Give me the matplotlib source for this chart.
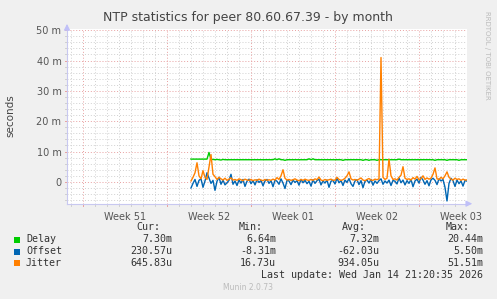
import matplotlib
matplotlib.use("Agg")
import matplotlib.pyplot as plt
import matplotlib.transforms as mtransforms
from matplotlib.patches import Rectangle

# x in hours from the left edge of the graph (2 h per pixel, 800 h wide)
start_hour = 248
step_hours = 4

offset_m = [
    -2.0, -0.5, 0.8, -1.5, 0.5, 1.0, -1.8, 0.3, 3.0, 1.2, -0.5, 0.5, -2.8, 0.2, 1.5, -0.8, 0.6, -1.0, -0.3, 0.5,
    2.5, -0.8, 0.3, -1.2, 0.6, -0.4, 0.8, -1.5, 0.2, 0.9, -0.6, 0.4, -1.0, 0.7, -0.2, 0.5, -1.3, 0.3, 0.8, -0.5,
    0.4, -1.6, 0.6, 0.2, -0.8, 1.0, -0.4, -2.2, 0.5, 0.3, -0.9, 0.6, -0.2, 0.4, -1.1, 0.8, -0.3, 0.5, -0.6, 0.2,
    -1.4, 0.7, -0.5, 0.4, 0.9, -1.0, 0.3, -0.4, 0.6, -1.8, 0.2, 0.5, -0.7, 1.2, -0.3, 0.4, -1.2, 0.6, -0.2, 1.1,
    -0.6, -1.5, 0.3, 0.7, -0.9, 0.4, -1.9, 0.2, 0.6, -0.4, 0.8, -1.1, 0.3, -0.5, 0.4, 1.0, -0.8, 0.3, -0.4, 0.6,
    -1.2, 0.5, 0.2, -0.7, 1.3, -0.3, 0.6, -1.0, 0.4, -0.5, 0.8, -1.6, 0.3, 0.9, -0.4, 1.5, 0.6, -0.8, 0.4, -1.3,
    0.7, 1.2, 0.5, -0.9, 1.0, 0.3, 0.8, -1.8, -6.3, -0.5, 1.2, 0.4, -1.5, 0.6, -0.6, 0.3, -1.4, 0.5, 0.23,
]
jitter_m = [
    0.3, 1.5, 3.0, 6.3, 2.0, 1.0, 3.7, 1.5, 0.8, 5.0, 9.0, 2.5, 1.7, 0.8, 1.5, 1.0, 0.6, 1.2, 0.5, 0.9,
    1.3, 0.6, 0.8, 0.5, 1.0, 0.7, 0.4, 0.9, 0.6, 0.5, 0.8, 0.4, 0.7, 0.5, 0.9, 0.6, 0.4, 0.8, 0.5, 0.7,
    0.5, 0.9, 0.6, 1.4, 0.8, 2.0, 4.0, 1.2, 0.6, 0.8, 0.5, 0.7, 1.0, 0.6, 0.4, 0.8, 0.5, 0.9, 0.6, 0.5,
    0.8, 0.5, 1.0, 0.7, 1.6, 0.6, 0.4, 0.8, 0.5, 0.7, 0.9, 0.5, 0.6, 1.5, 0.8, 0.5, 0.7, 1.2, 2.0, 3.3,
    1.0, 0.6, 0.8, 0.5, 0.9, 1.3, 0.6, 0.4, 0.8, 1.1, 0.6, 0.5, 0.9, 0.7, 1.0, 41.0, 1.5, 0.8, 1.2, 7.5,
    2.0, 0.8, 1.0, 0.6, 1.5, 2.2, 5.0, 1.2, 0.8, 1.0, 0.6, 1.4, 0.9, 1.8, 0.7, 1.1, 2.0, 0.8, 1.3, 0.9,
    1.2, 2.5, 4.6, 1.0, 0.8, 1.5, 1.0, 2.0, 3.3, 1.5, 0.9, 0.6, 1.2, 0.8, 1.0, 0.5, 0.9, 0.6, 0.65,
]
delay_m = [
    7.5, 7.5, 7.5, 7.5, 7.5, 7.5, 7.5, 7.5, 7.5, 9.7, 7.4, 7.4, 7.3, 7.4, 7.3, 7.2, 7.4, 7.3, 7.3, 7.3,
    7.3, 7.3, 7.3, 7.3, 7.3, 7.3, 7.3, 7.3, 7.3, 7.3, 7.3, 7.3, 7.3, 7.3, 7.3, 7.3, 7.3, 7.3, 7.3, 7.3,
    7.3, 7.3, 7.6, 7.3, 7.6, 7.3, 7.3, 7.1, 7.3, 7.3, 7.3, 7.3, 7.3, 7.3, 7.3, 7.3, 7.3, 7.3, 7.3, 7.6,
    7.3, 7.6, 7.3, 7.3, 7.3, 7.3, 7.3, 7.3, 7.3, 7.3, 7.3, 7.3, 7.3, 7.3, 7.3, 7.3, 7.1, 7.3, 7.3, 7.3,
    7.3, 7.3, 7.3, 7.3, 7.3, 7.3, 7.1, 7.3, 7.3, 7.1, 7.3, 7.3, 7.3, 7.1, 7.3, 7.3, 7.3, 7.3, 7.3, 7.3,
    7.3, 7.3, 7.3, 7.3, 7.5, 7.3, 7.3, 7.3, 7.3, 7.3, 7.3, 7.3, 7.3, 7.3, 7.3, 7.3, 7.3, 7.3, 7.3, 7.3,
    7.3, 7.3, 7.1, 7.3, 7.3, 7.3, 7.3, 7.3, 7.1, 7.3, 7.3, 7.3, 7.3, 7.3, 7.1, 7.3, 7.3, 7.3, 7.3,
]
hours = [start_hour + step_hours * i for i in range(len(offset_m))]

week_labels = ["Week 51", "Week 52", "Week 01", "Week 02", "Week 03"]
week_starts = [32, 200, 368, 536, 704]
y_ticks = [0, 10, 20, 30, 40, 50]
y_tick_labels = ["0", "10 m", "20 m", "30 m", "40 m", "50 m"]

series_names = ["Delay", "Offset", "Jitter"]
series_colors = ["#00CC00", "#0066B3", "#FF8000"]
cur_vals = ["7.30m", "230.57u", "645.83u"]
min_vals = ["6.64m", "-8.31m", "16.73u"]
avg_vals = ["7.32m", "-62.03u", "934.05u"]
max_vals = ["20.44m", "5.50m", "51.51m"]

W, H = 497, 299
fig = plt.figure(figsize=(W / 100, H / 100), dpi=100, facecolor="#F0F0F0")
ax = fig.add_axes([67 / W, (H - 203.7) / H, 400 / W, 174.7 / H], facecolor="white")
ax.set_xlim(0, 800)
ax.set_ylim(-7.2, 50.4)

MINOR = "#D0D0D0"
MAJOR = "#E8A0A0"
dots = (0, (1, 2))
# grid lines, with short tick stubs poking outside the plot area
tx = mtransforms.blended_transform_factory(ax.transData, ax.transAxes)
ty = mtransforms.blended_transform_factory(ax.transAxes, ax.transData)
for y in range(-6, 51, 2):
    c = MAJOR if y % 10 == 0 else MINOR
    ax.axhline(y, color=c, lw=0.7, ls=dots, zorder=1)
    ax.plot([-0.006, 0], [y, y], color=c, lw=0.7, transform=ty, clip_on=False)
for h in range(8, 800, 24):
    c = MAJOR if h in week_starts else MINOR
    ax.axvline(h, color=c, lw=0.7, ls=dots, zorder=1)
    ax.plot([h, h], [-0.014, 0], color=c, lw=0.7, transform=tx, clip_on=False)

ax.plot(hours, delay_m, color=series_colors[0], lw=1.0, zorder=3)
ax.plot(hours, offset_m, color=series_colors[1], lw=1.0, zorder=4)
ax.plot(hours, jitter_m, color=series_colors[2], lw=1.0, zorder=5)

for s in ["top", "right"]:
    ax.spines[s].set_visible(False)
for s in ["left", "bottom"]:
    ax.spines[s].set_color("#C8C8F0")
    ax.spines[s].set_linewidth(0.8)

ax.set_yticks(y_ticks)
ax.set_yticklabels(y_tick_labels)
ax.set_xticks([w + 84 for w in week_starts])
ax.set_xticklabels(week_labels)
ax.tick_params(axis="both", length=0, labelsize=7, colors="#555555", pad=4)
ax.tick_params(axis="x", pad=6)

# arrows at the end of the axes
ax.annotate("", xy=(0, 1.045), xytext=(0, 0.98), xycoords="axes fraction",
            arrowprops=dict(arrowstyle="-|>", color="#C0C0F8", lw=0.8, mutation_scale=9),
            annotation_clip=False)
ax.annotate("", xy=(1.02, 0), xytext=(0.995, 0), xycoords="axes fraction",
            arrowprops=dict(arrowstyle="-|>", color="#C0C0F8", lw=0.8, mutation_scale=9),
            annotation_clip=False)

fig.text(248 / W, 1 - 18 / H, "NTP statistics for peer 80.60.67.39 - by month",
         ha="center", va="center", fontsize=9, color="#444444")
fig.text(10 / W, 1 - 116 / H, "seconds", rotation=90, ha="center", va="center",
         fontsize=7.5, color="#444444")
fig.text(487 / W, 1 - 55 / H, "RRDTOOL / TOBI OETIKER", rotation=270, ha="center",
         va="center", fontsize=5, color="#BBBBBB")

mono = "DejaVu Sans Mono"
fs = 7.2
rows_y = [239.5, 251.5, 263]
fig.text(160 / W, 1 - 227 / H, "Cur:", ha="right", va="center", family=mono, fontsize=fs, color="#333333")
fig.text(263 / W, 1 - 227 / H, "Min:", ha="right", va="center", family=mono, fontsize=fs, color="#333333")
fig.text(366 / W, 1 - 227 / H, "Avg:", ha="right", va="center", family=mono, fontsize=fs, color="#333333")
fig.text(470 / W, 1 - 227 / H, "Max:", ha="right", va="center", family=mono, fontsize=fs, color="#333333")
for i, name in enumerate(series_names):
    yy = 1 - rows_y[i] / H
    fig.patches.append(Rectangle((14 / W, yy - 3 / H), 6 / W, 6 / H, transform=fig.transFigure,
                                 facecolor=series_colors[i], edgecolor="none"))
    fig.text(26 / W, yy, name, ha="left", va="center", family=mono, fontsize=fs, color="#333333")
    fig.text(172 / W, yy, cur_vals[i], ha="right", va="center", family=mono, fontsize=fs, color="#333333")
    fig.text(276 / W, yy, min_vals[i], ha="right", va="center", family=mono, fontsize=fs, color="#333333")
    fig.text(379 / W, yy, avg_vals[i], ha="right", va="center", family=mono, fontsize=fs, color="#333333")
    fig.text(483 / W, yy, max_vals[i], ha="right", va="center", family=mono, fontsize=fs, color="#333333")
fig.text(483 / W, 1 - 275 / H, "Last update: Wed Jan 14 21:20:35 2026", ha="right", va="center",
         family=mono, fontsize=fs, color="#333333")
fig.text(248 / W, 1 - 288 / H, "Munin 2.0.73", ha="center", va="center", fontsize=5.5, color="#BBBBBB")

fig.savefig("out.png", dpi=100, facecolor=fig.get_facecolor())
